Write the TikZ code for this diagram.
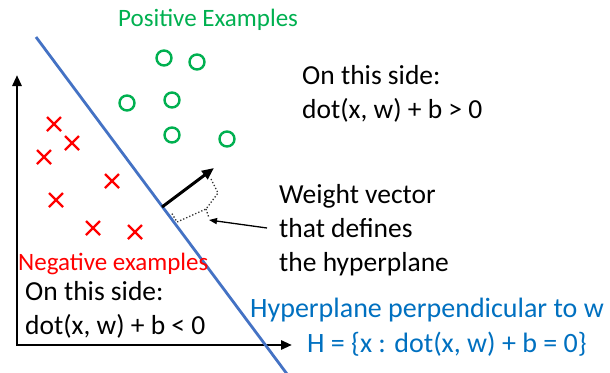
\documentclass[tikz,border=0pt]{standalone}
\usepackage{fontspec}
\setmainfont{Carlito}
\usetikzlibrary{arrows.meta,positioning}
\definecolor{posgreen}{RGB}{0,176,80}
\definecolor{negred}{RGB}{255,0,0}
\definecolor{planeblue}{RGB}{68,114,196}
\definecolor{textblue}{RGB}{0,112,192}

\begin{document}
\begin{tikzpicture}[x=1pt,y=-1pt,
    every node/.style={inner sep=0pt,anchor=base west,align=left},
    bigtext/.style={font=\fontsize{27.5}{34}\selectfont},
    labeltext/.style={font=\fontsize{25}{30}\selectfont},
    posmark/.style={draw=posgreen,line width=2.4pt},
    negmark/.style={draw=negred,line width=2.4pt},
    axis/.style={line width=2.8pt,{Triangle[length=11pt,width=9pt]}-{Triangle[length=11pt,width=9pt]}}]
  \useasboundingbox (0,0) rectangle (610,372);
  % axes
  \coordinate (origin) at (17,345);
  \coordinate (ytip) at (17,75);
  \coordinate (xtip) at (292,345);
  \draw[axis] (ytip) -- (origin) -- (xtip);
  % hyperplane
  \coordinate (planetop) at (36,37);
  \coordinate (planebot) at (290,378);
  \draw[planeblue,line width=2.8pt] (planetop) -- (planebot);
  % examples
  \foreach \x/\y in {164/58,197/62,127/103,172/100,172/135,227/139}
    \draw[posmark] (\x,\y) circle (7.5);
  \foreach \x/\y in {54/124,72/143,44/157,112/181,56/200,93/228,135/232}
    \draw[negmark] (\x-7,\y-7) -- (\x+7,\y+7) (\x-7,\y+7) -- (\x+7,\y-7);
  % weight vector
  \coordinate (wfoot) at (162,207);
  \coordinate (wtip) at (214,168);
  \draw[line width=3pt,-{Triangle[length=12pt,width=10pt]}] (wfoot) -- (wtip);
  \coordinate (bracketmid) at (206,209);
  \draw[dotted,line width=1.3pt,black!80] (211,179) -- (218,193) -- (bracketmid) -- (177,222) -- (171,212);
  \draw[dotted,line width=1.3pt,black!80] (bracketmid) -- (209,218);
  % labels
  \node[labeltext,text=posgreen] (poslabel) at (118,27) {Positive Examples};
  \node[bigtext] (posside) at (302,118) {On this side:\\dot(x, w) + b > 0};
  \node[bigtext] (weightlabel) at (279,271) {Weight vector\\that defines\\the hyperplane};
  \node[labeltext,text=negred] (neglabel) at (18,270) {Negative examples};
  \node[bigtext] (negside) at (25,334) {On this side:\\dot(x, w) + b < 0};
  \node[bigtext,font=\fontsize{28}{34}\selectfont,text=textblue] (planelabel) at (250,317) {Hyperplane perpendicular to w};
  \node[bigtext,font=\fontsize{28}{34}\selectfont,text=textblue] (planeeq) at (307,352) {H = \{x : dot(x, w) + b = 0\}};
  \coordinate (pointstart) at (267,228);
  \draw[line width=1.3pt,-{Triangle[length=8pt,width=6pt]}] (pointstart) -- (209,220);
\end{tikzpicture}
\end{document}
